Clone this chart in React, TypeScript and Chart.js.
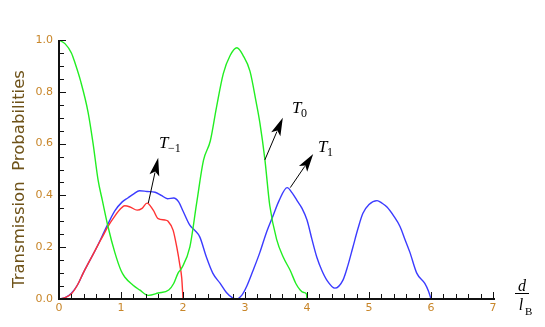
import React, { useEffect, useRef } from "react";
import { Chart, registerables } from "chart.js";

Chart.register(...registerables);

// T0 (green)
const t0X = [0, 0.1, 0.2, 0.26, 0.35, 0.47, 0.55, 0.63, 0.7, 0.79, 0.9, 1.0, 1.06, 1.19, 1.3, 1.44, 1.6, 1.77, 1.85, 1.92, 1.98, 2.11, 2.22, 2.33, 2.44, 2.54, 2.65, 2.76, 2.87, 2.97, 3.08, 3.18, 3.24, 3.32, 3.4, 3.51, 3.62, 3.73, 3.82, 3.89, 3.95, 3.99, 4.0];
const t0Y = [1.0, 0.985, 0.95, 0.91, 0.84, 0.72, 0.6, 0.46, 0.38, 0.28, 0.18, 0.11, 0.085, 0.054, 0.035, 0.014, 0.023, 0.035, 0.06, 0.1, 0.12, 0.2, 0.37, 0.535, 0.61, 0.74, 0.87, 0.94, 0.97, 0.94, 0.88, 0.76, 0.68, 0.54, 0.36, 0.23, 0.16, 0.11, 0.06, 0.035, 0.025, 0.02, 0.0];

// T-1 (red)
const tm1X = [0, 0.1, 0.2, 0.3, 0.39, 0.5, 0.61, 0.7, 0.79, 0.9, 1.0, 1.06, 1.15, 1.26, 1.34, 1.42, 1.52, 1.6, 1.71, 1.76, 1.84, 1.9, 1.95, 1.98, 2.0];
const tm1Y = [0, 0.005, 0.02, 0.055, 0.1, 0.15, 0.2, 0.24, 0.28, 0.32, 0.35, 0.36, 0.355, 0.343, 0.35, 0.37, 0.343, 0.31, 0.305, 0.3, 0.266, 0.2, 0.13, 0.08, 0.0];

// T1 (blue)
const t1X = [0, 0.1, 0.2, 0.3, 0.39, 0.5, 0.61, 0.7, 0.79, 0.9, 1.02, 1.11, 1.2, 1.3, 1.42, 1.55, 1.65, 1.75, 1.85, 1.93, 2.0, 2.11, 2.19, 2.27, 2.38, 2.48, 2.6, 2.7, 2.8, 2.86, 2.95, 3.03, 3.13, 3.24, 3.35, 3.45, 3.55, 3.68, 3.76, 3.84, 3.92, 4.0, 4.08, 4.16, 4.24, 4.32, 4.45, 4.58, 4.66, 4.74, 4.82, 4.9, 5.0, 5.13, 5.21, 5.29, 5.4, 5.5, 5.58, 5.66, 5.77, 5.9, 5.96, 6.0];
const t1Y = [0, 0.005, 0.022, 0.055, 0.1, 0.15, 0.2, 0.245, 0.29, 0.34, 0.375, 0.39, 0.405, 0.418, 0.415, 0.412, 0.4, 0.387, 0.39, 0.375, 0.34, 0.285, 0.265, 0.24, 0.16, 0.1, 0.06, 0.025, 0.004, 0.0, 0.015, 0.05, 0.11, 0.18, 0.26, 0.32, 0.38, 0.43, 0.41, 0.38, 0.35, 0.305, 0.23, 0.16, 0.11, 0.073, 0.042, 0.073, 0.13, 0.2, 0.27, 0.33, 0.365, 0.38, 0.37, 0.355, 0.32, 0.28, 0.23, 0.18, 0.1, 0.06, 0.03, 0.0];

// Annotations (data coordinates)
const arrowTailX = [1.44, 3.32, 3.73];
const arrowTailY = [0.37, 0.537, 0.43];
const arrowTipX = [1.6, 3.61, 4.1];
const arrowTipY = [0.545, 0.7, 0.56];
const labelX = [1.613, 3.758, 4.177];
const labelY = [0.583, 0.718, 0.568];
const labelSub = ["\u22121", "0", "1"];

const xTickLabels = ["0", "1", "2", "3", "4", "5", "6", "7"];
const yTickLabels = ["0.0", "0.2", "0.4", "0.6", "0.8", "1.0"];

const yTitle = "Transmission  Probabilities";

const TICK_COLOR = "#c8862a";
const TITLE_COLOR = "#6e5218";
const AXIS_COLOR = "#111111";

const pts = (xs: number[], ys: number[]) => xs.map((x, i) => ({ x, y: ys[i] }));

// draws axis lines and inward ticks using the chart's scales
function drawAxes(ctx: CanvasRenderingContext2D, chart: any) {
  const xs = chart.scales.x;
  const ys = chart.scales.y;
  const a = Math.round(xs.getPixelForValue(0));
  const b = Math.round(ys.getPixelForValue(1));
  const c = Math.round(ys.getPixelForValue(0));
  const d = Math.round(xs.getPixelForValue(7));
  ctx.save();
  ctx.globalCompositeOperation = "source-over";
  ctx.globalAlpha = 1;
  ctx.fillStyle = AXIS_COLOR;
  ctx.fillRect(a - 1, b, 2, c - b + 1);
  ctx.fillRect(a - 1, c - 1, d - a + 3, 2);
  for (let i = 0; i <= 35; i++) {
    const major = i % 5 === 0;
    const tx = Math.round(xs.getPixelForValue(i * 0.2));
    const len = major ? 6 : 4;
    ctx.fillRect(tx, c - 1 - len, 1, len);
  }
  for (let i = 0; i <= 20; i++) {
    const major = i % 4 === 0;
    const ty = Math.round(ys.getPixelForValue(i * 0.05));
    const len = major ? 6 : 4;
    ctx.fillRect(a + 1, ty, len, 1);
  }
  ctx.restore();
}

const decorPlugin = {
  id: "decor",
  afterDraw(chart: any) {
    const ctx: CanvasRenderingContext2D = chart.ctx;
    const xs = chart.scales.x;
    const ys = chart.scales.y;
    const px = (v: number) => xs.getPixelForValue(v);
    const py = (v: number) => ys.getPixelForValue(v);
    const y0p = py(0);

    ctx.save();
    ctx.fillStyle = "#000000";
    ctx.strokeStyle = "#000000";
    for (let i = 0; i < arrowTailX.length; i++) {
      const ax0 = px(arrowTailX[i]);
      const ay0 = py(arrowTailY[i]);
      const ax1 = px(arrowTipX[i]);
      const ay1 = py(arrowTipY[i]);
      const ang = Math.atan2(ay1 - ay0, ax1 - ax0);
      const L = 18;
      const W = 5;
      const ca = Math.cos(ang);
      const sa = Math.sin(ang);
      const bx = ax1 - L * ca;
      const by = ay1 - L * sa;
      ctx.beginPath();
      ctx.lineWidth = 1;
      ctx.moveTo(ax0, ay0);
      ctx.lineTo(bx + 3 * ca, by + 3 * sa);
      ctx.stroke();
      ctx.beginPath();
      ctx.moveTo(ax1, ay1);
      ctx.lineTo(bx - W * sa, by + W * ca);
      ctx.lineTo(bx + 4 * ca, by + 4 * sa);
      ctx.lineTo(bx + W * sa, by - W * ca);
      ctx.closePath();
      ctx.fill();
    }

    ctx.textBaseline = "alphabetic";
    ctx.textAlign = "left";
    for (let i = 0; i < labelX.length; i++) {
      const lx = px(labelX[i]);
      const ly = py(labelY[i]);
      ctx.font = "italic 17px 'Liberation Serif'";
      ctx.fillText("T", lx, ly);
      const w = ctx.measureText("T").width;
      ctx.font = "12px 'Liberation Serif'";
      ctx.fillText(labelSub[i], lx + w - 0.5, ly + 4);
    }

    const fx = chart.chartArea.right + 22;
    const fy = y0p;
    ctx.font = "italic 16px 'Liberation Serif'";
    ctx.textAlign = "center";
    ctx.fillText("d", fx + 7, fy - 8);
    ctx.fillRect(fx, fy - 6, 14, 1);
    ctx.fillText("l", fx + 6, fy + 11);
    ctx.font = "11px 'Liberation Serif'";
    ctx.textAlign = "left";
    ctx.fillText("B", fx + 10, fy + 16);

    ctx.translate(24, 179);
    ctx.rotate(-Math.PI / 2);
    ctx.textAlign = "center";
    ctx.fillStyle = TITLE_COLOR;
    ctx.font = "16.5px 'DejaVu Sans'";
    ctx.fillText(yTitle, 0, 0);
    ctx.restore();

    drawAxes(ctx, chart);
  },
};

export default function App() {
  const ref = useRef<HTMLCanvasElement | null>(null);
  const overlayRef = useRef<HTMLCanvasElement | null>(null);
  useEffect(() => {
    if (!ref.current) return;
    const lineDs = (label: string, data: any[], color: string) => ({
      label,
      data,
      borderColor: color,
      backgroundColor: color,
      borderWidth: 1.4,
      pointRadius: 0,
      fill: false,
      cubicInterpolationMode: "monotone" as const,
    });
    const chart = new Chart(ref.current, {
      type: "line",
      data: {
        datasets: [
          lineDs("T0", pts(t0X, t0Y), "#22ee22"),
          lineDs("T-1", pts(tm1X, tm1Y), "#ff3333"),
          lineDs("T1", pts(t1X, t1Y), "#3b3bff"),
        ],
      },
      options: {
        animation: false,
        responsive: false,
        devicePixelRatio: 1,
        layout: { padding: { left: 0, right: 52, top: 40, bottom: 0 } },
        plugins: { legend: { display: false }, tooltip: { enabled: false } },
        scales: {
          x: {
            type: "linear",
            min: 0,
            max: 7,
            grid: { display: false, drawTicks: false },
            border: { display: false },
            afterFit: (s: any) => {
              s.height = 28;
            },
            ticks: {
              stepSize: 1,
              padding: 3,
              color: TICK_COLOR,
              font: { family: "DejaVu Sans", size: 11 },
              callback: (v: any) => xTickLabels[Math.round(Number(v))] ?? "",
              maxRotation: 0,
            },
          },
          y: {
            type: "linear",
            min: 0,
            max: 1,
            grid: { display: false, drawTicks: false },
            border: { display: false },
            afterFit: (s: any) => {
              s.width = 59;
            },
            ticks: {
              stepSize: 0.2,
              padding: 6,
              color: TICK_COLOR,
              font: { family: "DejaVu Sans", size: 11 },
              callback: (v: any) => yTickLabels[Math.round(Number(v) * 5)] ?? "",
            },
          },
        },
      },
      plugins: [decorPlugin],
    });
    // overlay layer for the axis frame, positioned from the chart's scales
    const ov = overlayRef.current;
    if (ov) {
      const octx = ov.getContext("2d");
      if (octx) {
        octx.clearRect(0, 0, ov.width, ov.height);
        drawAxes(octx, chart);
      }
    }
    return () => {
      chart.destroy();
      if (ov) {
        const octx = ov.getContext("2d");
        if (octx) octx.clearRect(0, 0, ov.width, ov.height);
      }
    };
  }, []);
  return (
    <div style={{ position: "fixed", left: 0, top: 0, width: 545, height: 327, background: "#fff" }}>
      <canvas ref={ref} width={545} height={327} style={{ width: 545, height: 327, display: "block" }} />
      <canvas
        ref={overlayRef}
        width={545}
        height={327}
        style={{ position: "absolute", left: 0, top: 0, width: 545, height: 327, pointerEvents: "none" }}
      />
    </div>
  );
}
